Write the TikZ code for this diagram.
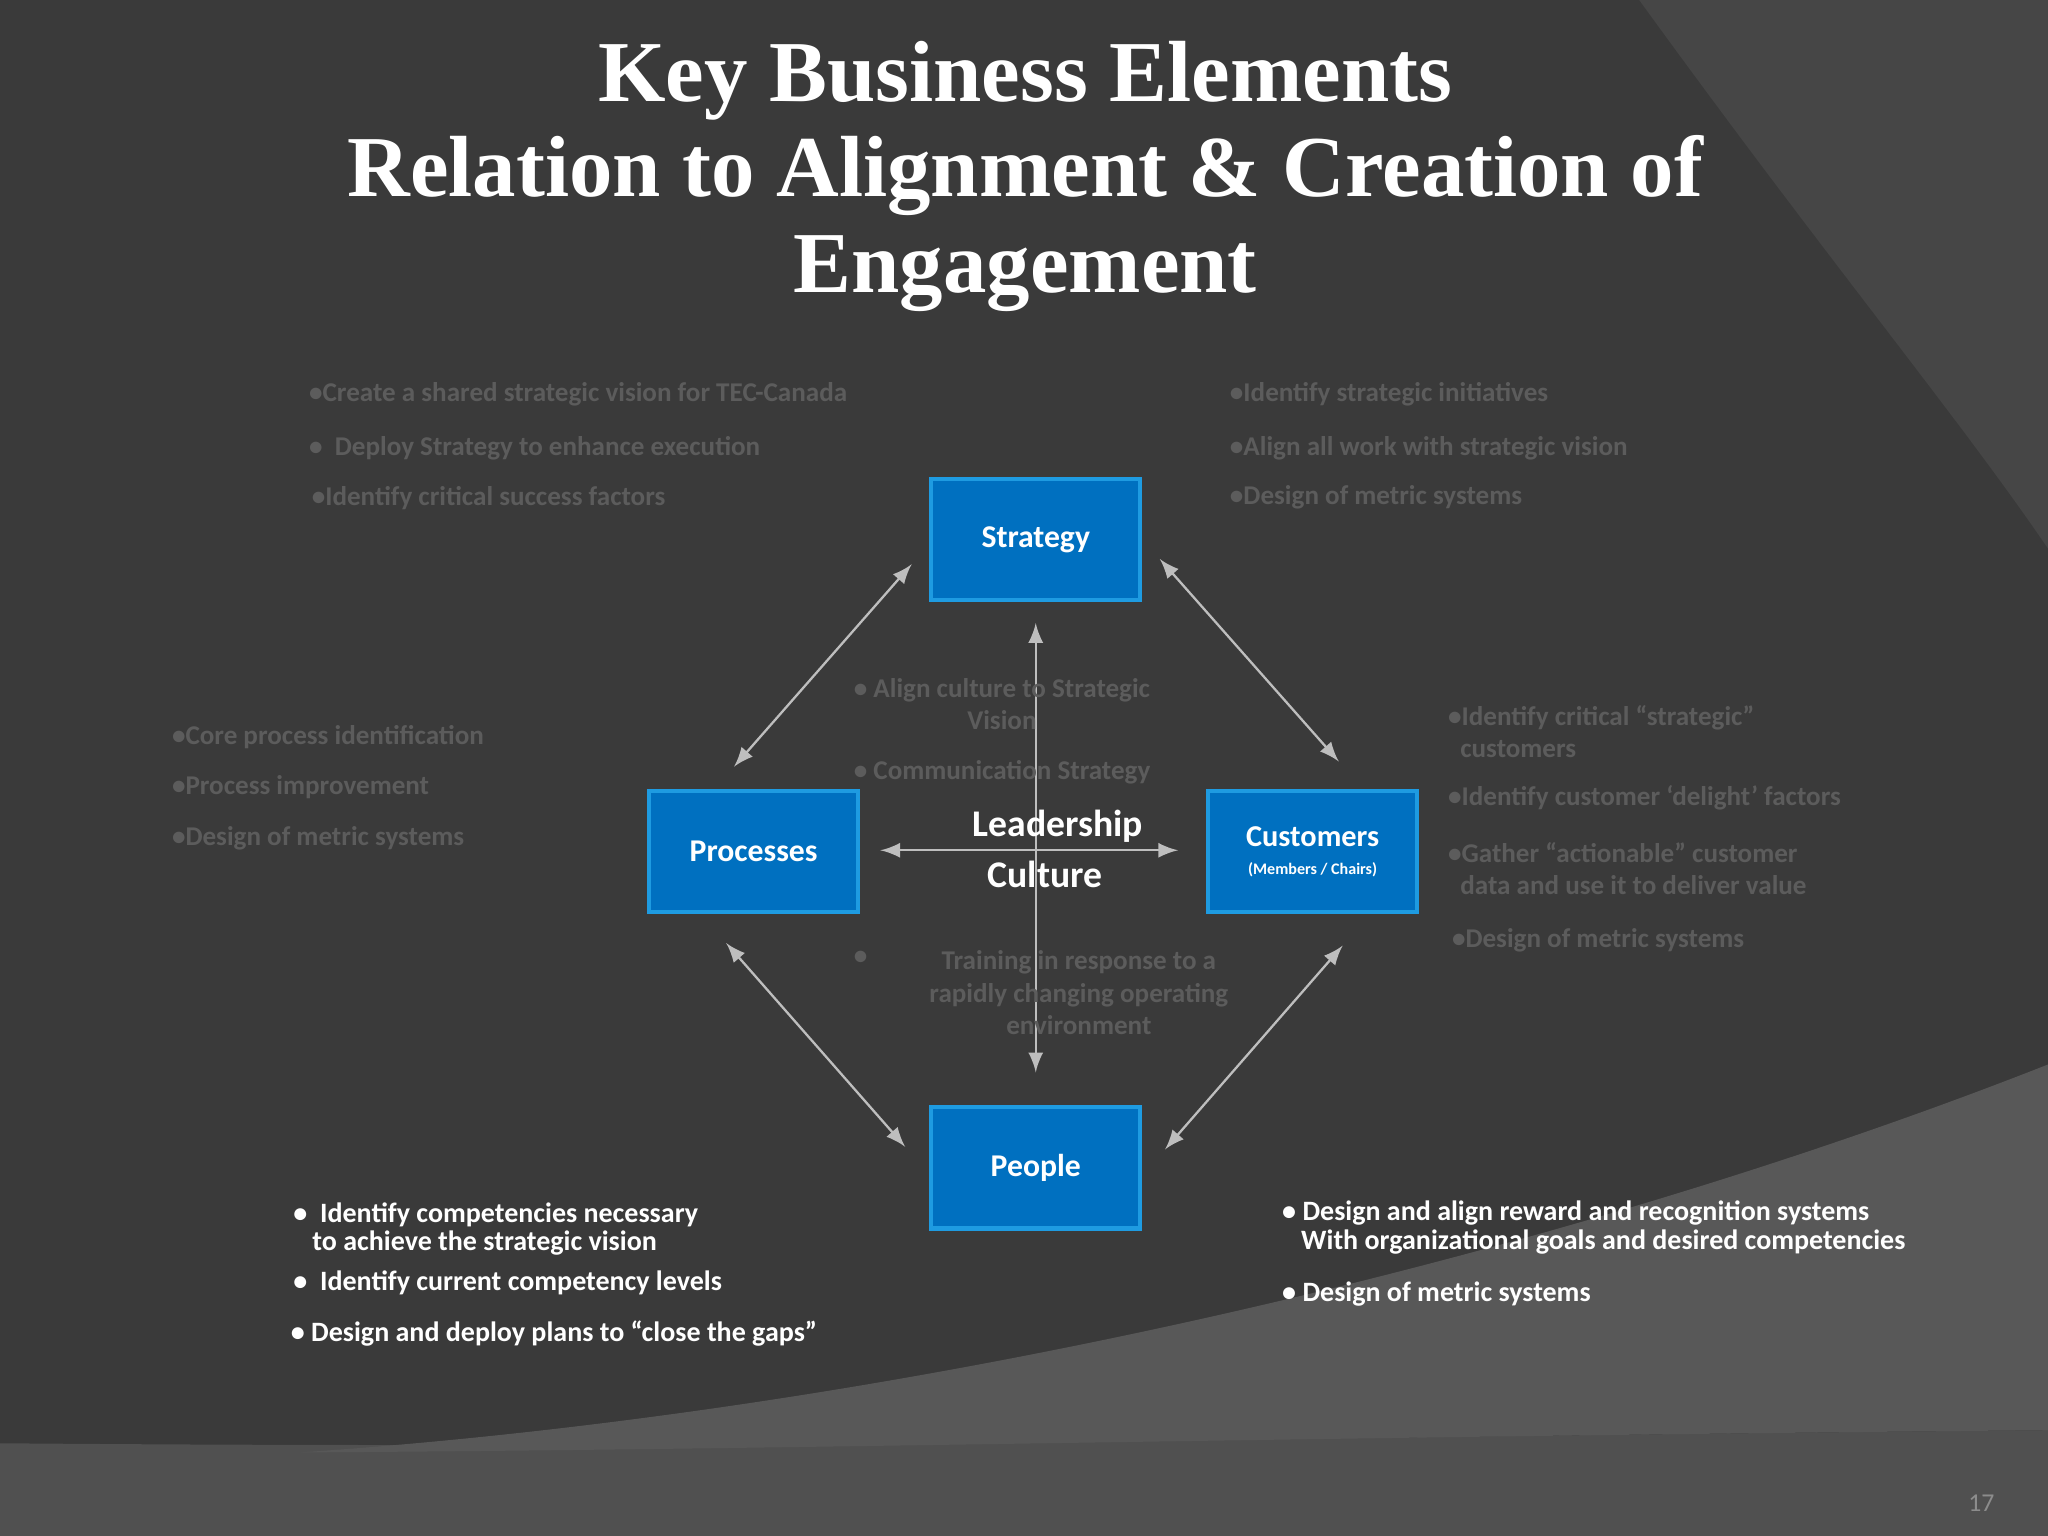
\documentclass[tikz,border=0pt]{standalone}
\usepackage{fontspec}
\setmainfont{Carlito}
\newfontfamily\ttl{Liberation Serif}
\definecolor{bg}{RGB}{58,58,58}
\definecolor{bg2}{RGB}{70,70,70}
\definecolor{bg3}{RGB}{80,80,80}
\definecolor{bg4}{RGB}{88,88,88}
\definecolor{boxblue}{RGB}{0,112,192}
\definecolor{boxedge}{RGB}{30,155,225}
\definecolor{gtxt}{RGB}{92,92,92}
\definecolor{arrc}{RGB}{190,190,190}
\definecolor{numc}{RGB}{140,140,140}
\begin{document}
\begin{tikzpicture}[x=0.01cm,y=-0.01cm,
 box/.style={draw=boxedge,line width=0.9pt,fill=boxblue,minimum width=1.6cm,minimum height=0.93cm,text=white,font=\bfseries\fontsize{6.9}{7}\selectfont,align=center},
 gt/.style={text=gtxt,inner sep=0pt,font=\bfseries\fontsize{5.9}{7}\selectfont,anchor=west,align=left},
 wt/.style={text=white,inner sep=0pt,font=\bfseries\fontsize{6.1}{6.2}\selectfont,anchor=west,align=left},
 arr/.style={draw=arrc,line width=0.5pt,<->,>=latex}]
\useasboundingbox (0,0) rectangle (1568,1176);
\fill[bg] (0,0) rectangle (1568,1176);
\fill[bg2] (1255,0) .. controls (1400,200) and (1500,320) .. (1568,420) -- (1568,0) -- cycle;
\fill[bg3] (0,1105) .. controls (600,1110) and (1000,1100) .. (1568,1095) -- (1568,1176) -- (0,1176) -- cycle;
\fill[bg4] (230,1112) .. controls (700,1080) and (1200,960) .. (1568,815) -- (1568,1095) .. controls (1000,1100) and (600,1110) .. (230,1112) -- cycle;
\node[text=white,font=\ttl\bfseries\fontsize{18.9}{20.8}\selectfont,align=center] (title) at (785,135) {Key Business Elements\\Relation to Alignment \& Creation of\\Engagement};
\node[box] (s) at (793,413) {Strategy};
\node[box] (p) at (577,652) {Processes};
\node[box] (c) at (1005,652) {\fontsize{6.6}{7}\selectfont Customers\\[-1pt]{\fontsize{3.5}{4}\selectfont (Members / Chairs)}};
\node[box] (pe) at (793,894) {People};
\coordinate (a1) at (698,432); \coordinate (a2) at (562,587);
\coordinate (b1) at (888,428); \coordinate (b2) at (1025,583);
\coordinate (c1) at (556,722); \coordinate (c2) at (693,878);
\coordinate (d1) at (1028,724); \coordinate (d2) at (892,880);
\coordinate (h1) at (674,651); \coordinate (h2) at (902,651);
\coordinate (v1) at (793,477); \coordinate (v2) at (793,821);
\draw[arr] (a1)--(a2); \draw[arr] (b1)--(b2); \draw[arr] (c1)--(c2); \draw[arr] (d1)--(d2);
\draw[arr] (h1)--(h2); \draw[arr] (v1)--(v2);
\node[gt] (t1) at (236,302) {\textbullet Create a shared strategic vision for TEC-Canada};
\node[gt] (t2) at (236,343) {\textbullet\ \ Deploy Strategy to enhance execution};
\node[gt] (t3) at (238,381) {\textbullet Identify critical success factors};
\node[gt] (t4) at (941,302) {\textbullet Identify strategic initiatives};
\node[gt] (t5) at (941,343) {\textbullet Align all work with strategic vision};
\node[gt] (t6) at (941,381) {\textbullet Design of metric systems};
\node[gt] (t7) at (131,564) {\textbullet Core process identification};
\node[gt] (t8) at (131,603) {\textbullet Process improvement};
\node[gt] (t9) at (131,642) {\textbullet Design of metric systems};
\node[gt,align=center] (t10) at (653,539) {\textbullet\ Align culture to Strategic\\Vision};
\node[gt] (t11) at (653,591) {\textbullet\ Communication Strategy};
\node[gt] (t12) at (653,733) {\textbullet};
\node[gt,align=center,anchor=center] (t13) at (826,760) {Training in response to a\\rapidly changing operating\\environment};
\node[gt] (t14) at (1108,560) {\textbullet Identify critical ``strategic''\\\ \ customers};
\node[gt] (t15) at (1108,611) {\textbullet Identify customer `delight' factors};
\node[gt] (t16) at (1108,665) {\textbullet Gather ``actionable'' customer\\\ \ data and use it to deliver value};
\node[gt] (t17) at (1111,720) {\textbullet Design of metric systems};
\node[text=white,font=\bfseries\fontsize{8.2}{11}\selectfont,align=center] (lc) at (800,650) {\ \ \ Leadership\\Culture};
\node[wt] (w1) at (224,941) {\textbullet\ \ Identify competencies necessary\\\ \ \ to achieve the strategic vision};
\node[wt] (w2) at (224,982) {\textbullet\ \ Identify current competency levels};
\node[wt] (w3) at (222,1021) {\textbullet\ Design and deploy plans to ``close the gaps''};
\node[wt] (w4) at (981,940) {\textbullet\ Design and align reward and recognition systems\\\ \ \ With organizational goals and desired competencies};
\node[wt] (w5) at (981,991) {\textbullet\ Design of metric systems};
\node[text=numc,font=\fontsize{5.6}{6}\selectfont] (num) at (1517,1151) {17};
\end{tikzpicture}
\end{document}
